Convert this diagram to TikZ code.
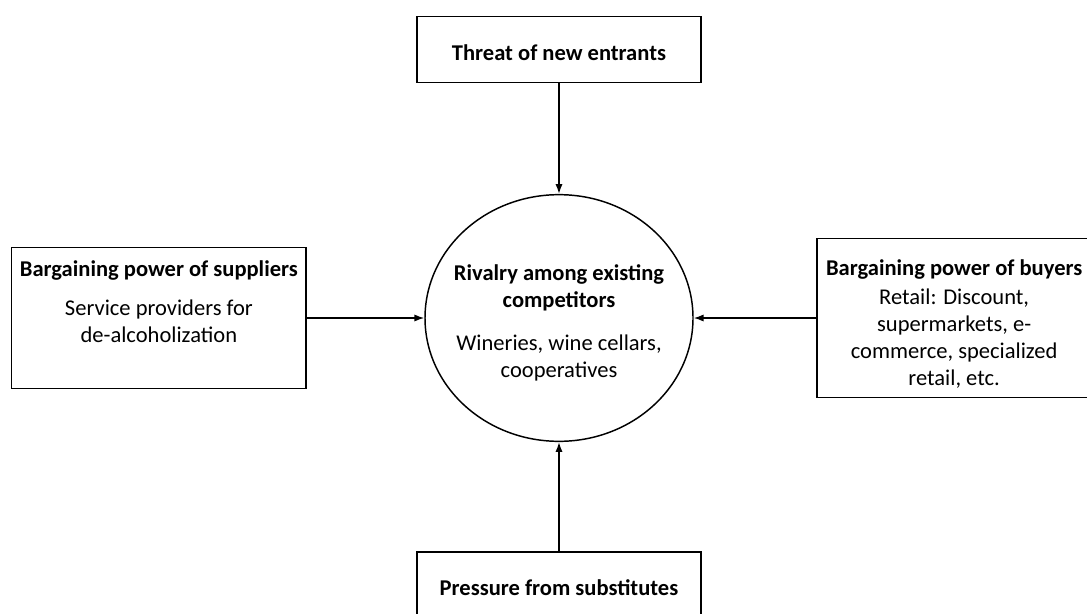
\documentclass[tikz,border=0pt]{standalone}
\usepackage{fontspec}
\setmainfont{Carlito}
\usepackage{tikz}
\usetikzlibrary{arrows.meta,positioning,shapes.geometric}

\begin{document}
\begin{tikzpicture}[x=0.75pt,y=-0.75pt,
    force/.style={draw,line width=1.1pt,inner sep=0pt,align=center,text height=16.2pt,text depth=0pt,
      font=\fontsize{16.9pt}{20.3pt}\selectfont\bfseries},
    txt/.style={align=center,inner sep=0pt,font=\fontsize{16.9pt}{20.3pt}\selectfont},
    arr/.style={-{Latex[length=2.6mm,width=1.9mm]},line width=1.1pt}
  ]
    \useasboundingbox (0,0) rectangle (1087,613);
    \node[draw,ellipse,line width=1.1pt,inner sep=0pt,minimum width=201pt,
      minimum height=185pt] (rivalry) at (559,318) {};
    \node[force,minimum width=213pt,minimum height=49.5pt,above=83pt of rivalry] (entrants) {Threat of new entrants};
    \node[force,minimum width=213pt,minimum height=49.5pt,below=82pt of rivalry] (substitutes) {Pressure from substitutes};
    \node[force,minimum width=221pt,minimum height=106pt,left=88pt of rivalry] (suppliers) {};
    \node[force,minimum width=205.5pt,minimum height=119pt,right=92pt of rivalry] (buyers) {};
    % texts inside the circle and the side boxes
    \node[txt] (rivalrytxt) at ([yshift=-3.5pt]rivalry)
      {\textbf{Rivalry among existing}\\\textbf{competitors}\\[12pt]Wineries, wine cellars,\\cooperatives};
    \node[txt] (supplierstxt) at ([yshift=12.5pt]suppliers)
      {\textbf{Bargaining power of suppliers}\\[9pt]Service providers for\\de-alcoholization};
    \node[txt] (buyerstxt) at ([yshift=-4.5pt]buyers)
      {\textbf{Bargaining power of buyers}\\[1pt]Retail: Discount,\\supermarkets, e-\\commerce, specialized\\retail, etc.};
    \foreach \a in {entrants,substitutes,suppliers,buyers}\draw[arr](\a)--(rivalry);
  \end{tikzpicture}
\end{document}
